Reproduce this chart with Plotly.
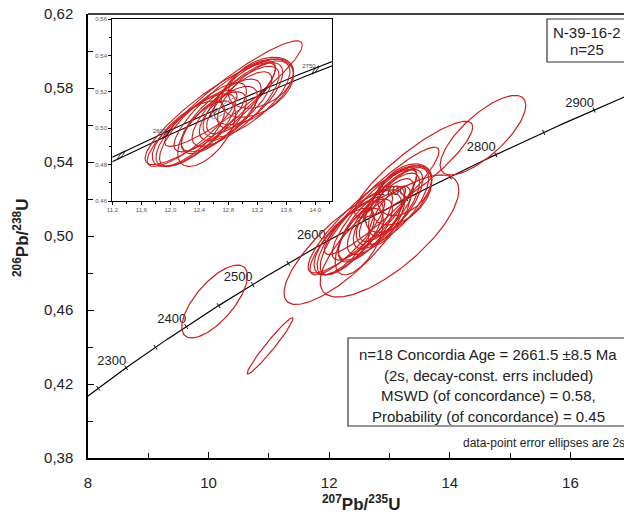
import numpy as np
import plotly.graph_objects as go

# ---------------- data ----------------
# error ellipses: centre (207Pb/235U, 206Pb/238U), half-extent in x, half-extent in y, error correlation
ell_cx  = [12.87, 12.55, 12.35, 12.25, 12.45, 12.70, 12.90, 13.05, 13.15, 13.20,
           13.10, 12.60, 12.80, 12.95, 12.30, 12.75, 13.25, 12.50, 13.00,
           14.55, 13.40, 13.00, 12.25, 10.10, 11.02]
ell_cy  = [0.519, 0.508, 0.499, 0.497, 0.502, 0.507, 0.512, 0.516, 0.520, 0.522,
           0.518, 0.503, 0.508, 0.514, 0.500, 0.512, 0.525, 0.497, 0.511,
           0.5545, 0.536, 0.500, 0.494, 0.4646, 0.4406]
ell_hw  = [0.95, 0.90, 0.55, 0.50, 0.60, 0.55, 0.60, 0.60, 0.55, 0.50,
           0.45, 0.45, 0.40, 0.45, 0.62, 0.70, 0.45, 0.40, 0.35,
           0.71, 0.98, 1.15, 1.00, 0.545, 0.38]
ell_hh  = [0.029, 0.028, 0.020, 0.018, 0.023, 0.020, 0.022, 0.021, 0.018, 0.016,
           0.018, 0.017, 0.015, 0.017, 0.021, 0.025, 0.014, 0.018, 0.016,
           0.0215, 0.026, 0.033, 0.031, 0.0197, 0.0152]
ell_rho = [0.92, 0.88, 0.75, 0.70, 0.80, 0.75, 0.78, 0.72, 0.60, 0.45,
           0.70, 0.70, 0.65, 0.75, 0.85, 0.85, 0.40, 0.60, 0.70,
           0.75, 0.88, 0.75, 0.80, 0.70, 0.97]
ell_inset = [1]*18 + [0]*7

# concordia
lam238 = 1.55125e-10
lam235 = 9.8485e-10
tick_ages = [2250, 2300, 2350, 2400, 2450, 2500, 2550, 2600, 2650, 2700, 2750, 2800, 2850, 2900, 2950]
label_ages = [2300, 2400, 2500, 2600, 2700, 2800, 2900]
inset_tick_ages = [2550, 2600, 2650, 2700, 2750]
inset_label_ages = [2600, 2750]
conc_age = 2661.5

x_ticks = [8, 10, 12, 14, 16]
y_ticks = [0.38, 0.42, 0.46, 0.50, 0.54, 0.58, 0.62]

stats_lines = ["n=18 Concordia Age = 2661.5 ±8.5 Ma",
               "(2s, decay-const. errs included)",
               "MSWD (of concordance) = 0.58,",
               "Probability (of concordance) = 0.45"]
sample_lines = ["N-39-16-2", "n=25"]
note_text = "data-point error ellipses are 2s"

# ---------------- helpers ----------------
def conc(t_ma):
    t = np.asarray(t_ma, dtype=float) * 1e6
    return np.exp(lam235 * t) - 1, np.exp(lam238 * t) - 1

def ellipse(cx, cy, hw, hh, rho, n=160):
    th = np.linspace(0, 2 * np.pi, n)
    return cx + hw * np.cos(th), cy + hh * (rho * np.cos(th) + np.sqrt(1 - rho ** 2) * np.sin(th))

W, H = 624, 515
ML, MR, MT, MB = 88, 0, 14, 57
PW, PH = W - ML - MR, H - MT - MB
XR = [8, 8 + PW / 60.3]
YR = [0.38, 0.62]

def px(xp):  # pixel -> paper x
    return (xp - ML) / PW
def py(yp):  # pixel -> paper y
    return (H - MB - yp) / PH

RED = "#cc1e1e"
FONT = "Arial, Liberation Sans, sans-serif"

fig = go.Figure()

# concordia main
ages_curve = np.linspace(2150, 3100, 400)
cx_, cy_ = conc(ages_curve)
fig.add_trace(go.Scatter(x=cx_, y=cy_, mode="lines", line=dict(color="black", width=1.2),
                         hoverinfo="skip", showlegend=False))
tx, ty = conc(tick_ages)
slope = (lam238 * (ty + 1)) / (lam235 * (tx + 1)) * (PH / (YR[1] - YR[0])) / (PW / (XR[1] - XR[0]))
angles = -np.degrees(np.arctan(slope))
fig.add_trace(go.Scatter(x=tx, y=ty, mode="markers",
                         marker=dict(symbol="line-ns", size=4, angle=list(angles),
                                     line=dict(color="black", width=1)),
                         hoverinfo="skip", showlegend=False))
lx, ly = conc(label_ages)
fig.add_trace(go.Scatter(x=lx, y=ly, mode="text", text=[str(a) for a in label_ages],
                         textposition="top left", textfont=dict(family=FONT, size=13, color="#222"),
                         hoverinfo="skip", showlegend=False))

# ellipses main
for i in range(len(ell_cx)):
    ex, ey = ellipse(ell_cx[i], ell_cy[i], ell_hw[i], ell_hh[i], ell_rho[i])
    fig.add_trace(go.Scatter(x=ex, y=ey, mode="lines", line=dict(color=RED, width=1.2),
                             hoverinfo="skip", showlegend=False))

# ---------------- inset ----------------
ib = np.linspace(2450, 2850, 200)
bx, by = conc(ib)
for off in (-0.0012, 0.0012):
    fig.add_trace(go.Scatter(x=bx, y=by + off, mode="lines", line=dict(color="black", width=1.1),
                             xaxis="x2", yaxis="y2", hoverinfo="skip", showlegend=False))
for i in range(len(ell_cx)):
    if ell_inset[i]:
        ex, ey = ellipse(ell_cx[i], ell_cy[i], ell_hw[i], ell_hh[i], ell_rho[i])
        fig.add_trace(go.Scatter(x=ex, y=ey, mode="lines", line=dict(color=RED, width=1.1),
                                 xaxis="x2", yaxis="y2", hoverinfo="skip", showlegend=False))
itx, ity = conc(inset_tick_ages)
for a, b in zip(itx, ity):
    ex, ey = ellipse(a, b, 0.05, 0.0022, 0.9, 40)
    fig.add_trace(go.Scatter(x=ex, y=ey, mode="lines", line=dict(color="black", width=0.8),
                             xaxis="x2", yaxis="y2", hoverinfo="skip", showlegend=False))
cax, cay = conc([conc_age])
ex, ey = ellipse(cax[0], cay[0], 0.18, 0.0060, 0.9)
fig.add_trace(go.Scatter(x=ex, y=ey, mode="lines", line=dict(color="#8a9ac0", width=1),
                         xaxis="x2", yaxis="y2", hoverinfo="skip", showlegend=False))
ilx, ily = conc(inset_label_ages)
fig.add_trace(go.Scatter(x=ilx, y=ily, mode="text", text=[str(a) for a in inset_label_ages],
                         textposition="top left", textfont=dict(family=FONT, size=6, color="#444"),
                         xaxis="x2", yaxis="y2", hoverinfo="skip", showlegend=False))

# ---------------- layout ----------------
fig.update_layout(
    width=W, height=H, margin=dict(l=ML, r=MR, t=MT, b=MB, pad=0),
    paper_bgcolor="white", plot_bgcolor="white", separators=",.",
    font=dict(family=FONT, color="#222"),
    xaxis=dict(range=XR, domain=[0, 1], showgrid=False, zeroline=False,
               showline=True, linecolor="black", linewidth=1.5, mirror=False,
               tickmode="array", tickvals=x_ticks, ticks="inside", ticklen=6, tickwidth=1.2,
               tickcolor="black", tickfont=dict(size=15, color="#222"), ticklabelstandoff=10,
               minor=dict(dtick=1, tick0=8, ticks="inside", ticklen=5, tickcolor="black", tickwidth=1.2)),
    yaxis=dict(range=YR, domain=[0, 1], showgrid=False, zeroline=False,
               showline=True, linecolor="black", linewidth=1.5, mirror=False,
               tickmode="array", tickvals=y_ticks, tickformat=".2f",
               ticks="inside", ticklen=6, tickwidth=1.2, tickcolor="black",
               tickfont=dict(size=15, color="#222"), ticklabelstandoff=10,
               minor=dict(dtick=0.02, tick0=0.38, ticks="inside", ticklen=5, tickcolor="black", tickwidth=1.2)),
    xaxis2=dict(range=[11.2, 14.23], domain=[px(112.4), px(332)], anchor="y2",
                showgrid=False, zeroline=False, showline=True, linecolor="black", linewidth=1.3,
                mirror=True, tick0=11.2, dtick=0.4, tickformat=".1f", ticks="outside", ticklen=3,
                tickcolor="black", tickfont=dict(size=6, color="#555"),
                minor=dict(dtick=0.2, ticks="outside", ticklen=2, tickcolor="black")),
    yaxis2=dict(range=[0.46, 0.56], domain=[py(201), py(19)], anchor="x2",
                showgrid=False, zeroline=False, showline=True, linecolor="black", linewidth=1.3,
                mirror=True, tick0=0.46, dtick=0.02, tickformat=".2f", ticks="outside", ticklen=3,
                tickcolor="black", tickfont=dict(size=6, color="#555"),
                minor=dict(dtick=0.01, ticks="outside", ticklen=2, tickcolor="black")),
)

shapes = [
    dict(type="line", xref="paper", yref="paper", x0=0, x1=1.02, y0=1, y1=1,
         line=dict(color="#444", width=2)),
    dict(type="rect", xref="paper", yref="paper", x0=px(547), x1=px(627), y0=py(62), y1=py(19),
         line=dict(color="#333", width=1.2), fillcolor="white"),
    dict(type="rect", xref="paper", yref="paper", x0=px(348), x1=px(627), y0=py(426), y1=py(338),
         line=dict(color="#333", width=1.2), fillcolor="white"),
]
fig.update_layout(shapes=shapes)

ann = []
ann.append(dict(xref="paper", yref="paper", x=px(361), y=py(503), xanchor="center", yanchor="middle",
                text="<b><sup>207</sup>Pb/<sup>235</sup>U</b>", showarrow=False,
                font=dict(size=17, color="#222", family=FONT)))
ann.append(dict(xref="paper", yref="paper", x=px(21), y=py(238), xanchor="center", yanchor="middle",
                text="<b><sup>206</sup>Pb/<sup>238</sup>U</b>", textangle=-90, showarrow=False,
                font=dict(size=17, color="#222", family=FONT)))
for k, s in enumerate(sample_lines):
    ann.append(dict(xref="paper", yref="paper", x=px(587), y=py(32 + 18 * k), xanchor="center",
                    yanchor="middle", text=s, showarrow=False, font=dict(size=15, color="#222", family=FONT)))
for k, s in enumerate(stats_lines):
    ann.append(dict(xref="paper", yref="paper", x=px(488), y=py(354.5 + 20.5 * k), xanchor="center",
                    yanchor="middle", text=s, showarrow=False, font=dict(size=15, color="#222", family=FONT)))
ann.append(dict(xref="paper", yref="paper", x=px(627), y=py(443), xanchor="right", yanchor="middle",
                text=note_text, showarrow=False, font=dict(size=12, color="#222", family=FONT)))
fig.update_layout(annotations=ann)

fig.write_html("out.html")
